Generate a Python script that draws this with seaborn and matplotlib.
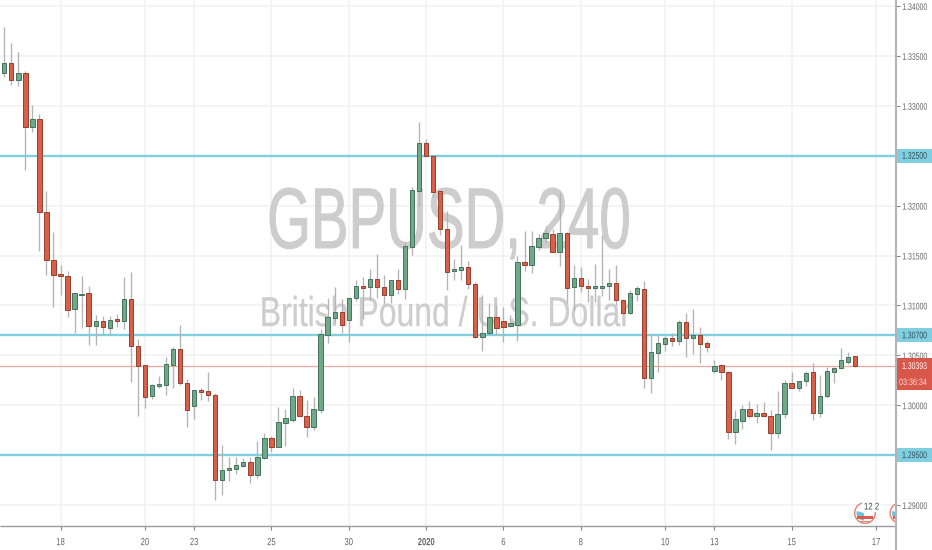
import matplotlib
matplotlib.use("Agg")
import matplotlib.pyplot as plt
import numpy as np
import pandas as pd
import seaborn as sns
from matplotlib.patches import Circle, Rectangle, Wedge
from matplotlib.patheffects import AbstractPathEffect
from matplotlib.transforms import Affine2D, blended_transform_factory

highs = [1.33792,1.33626,1.33536,1.33351,1.33005,1.32915,1.32149,1.31738,1.31405,1.31341,1.31121,1.31297,1.31194,1.30901,1.30894,1.30894,1.30914,1.31281,1.31334,1.30666,1.30406,1.30212,1.30292,1.30483,1.30583,1.30803,1.30262,1.30155,1.30169,1.30329,1.30125,
1.29601,1.29481,1.29484,1.29468,1.29484,1.29641,1.29721,1.29691,1.29979,1.29959,1.30169,1.30152,1.30052,1.30079,1.30759,1.31071,1.31181,1.31064,1.31087,1.31254,1.31284,1.31362,1.31515,1.31301,1.31254,1.31365,1.31638,1.32183,1.32840,1.32667,
1.32507,1.32156,1.31949,1.31465,1.31605,1.31445,1.31237,1.31104,1.31021,1.31004,1.30987,1.30904,1.31495,1.31748,1.31748,1.31712,1.31795,1.31765,1.32123,1.31732,1.31402,1.31382,1.31264,1.31412,1.31702,1.31365,1.31400,1.31064,1.31151,1.31197,
1.31244,1.30703,1.30703,1.30693,1.30726,1.30854,1.30921,1.30967,1.30786,1.30646,1.30453,1.30416,1.30339,1.29949,1.29999,1.30045,1.30012,1.30032,1.29949,1.30142,1.30252,1.30335,1.30242,1.30345,1.30426,1.30299,1.30379,1.30386,1.30573,1.30536,1.30493]
lows = [1.33291,1.33208,1.33201,1.32357,1.32740,1.31548,1.31304,1.30987,1.31107,1.30887,1.30726,1.30770,1.30603,1.30603,1.30703,1.30713,1.30786,1.30760,1.30235,1.29895,1.29969,1.30062,1.30172,1.30105,1.30172,1.30199,1.29784,1.29859,1.30052,1.30042,1.29053,
1.29100,1.29237,1.29310,1.29378,1.29223,1.29273,1.29461,1.29534,1.29578,1.29594,1.29831,1.29885,1.29684,1.29754,1.29925,1.30620,1.30826,1.30720,1.30630,1.31044,1.30861,1.31054,1.31077,1.31014,1.31024,1.31114,1.31061,1.31502,1.31996,1.32500,
1.32083,1.31705,1.31154,1.31254,1.31254,1.31164,1.30673,1.30540,1.30713,1.30703,1.30633,1.30780,1.30640,1.31347,1.31327,1.31555,1.31635,1.31538,1.31398,1.31021,1.30954,1.31134,1.31031,1.31030,1.31097,1.31054,1.31004,1.30914,1.30911,1.31044,
1.30172,1.30125,1.30336,1.30540,1.30593,1.30603,1.30486,1.30510,1.30420,1.30530,1.30319,1.30252,1.29661,1.29614,1.29758,1.29869,1.29824,1.29882,1.29551,1.29668,1.29869,1.30169,1.30145,1.30192,1.29852,1.29879,1.30072,1.30225,1.30366,1.30413,1.30383]
tops = [1.33426,1.33426,1.33325,1.33325,1.32868,1.32868,1.31939,1.31452,1.31311,1.31297,1.31121,1.31117,1.31121,1.30841,1.30841,1.30857,1.30861,1.31067,1.31067,1.30590,1.30400,1.30205,1.30209,1.30410,1.30563,1.30563,1.30222,1.30149,1.30152,1.30142,1.30105,
1.29354,1.29371,1.29398,1.29428,1.29428,1.29481,1.29674,1.29671,1.29828,1.29869,1.30095,1.30095,1.29895,1.29959,1.30710,1.30884,1.30931,1.30931,1.31077,1.31194,1.31191,1.31264,1.31264,1.31187,1.31251,1.31251,1.31595,1.32153,1.32627,1.32627,
1.32497,1.32149,1.31765,1.31365,1.31382,1.31382,1.31214,1.30726,1.30884,1.30887,1.30843,1.30820,1.31435,1.31435,1.31595,1.31672,1.31722,1.31718,1.31728,1.31728,1.31277,1.31277,1.31197,1.31191,1.31197,1.31224,1.31224,1.31057,1.31121,1.31171,
1.31167,1.30536,1.30620,1.30673,1.30673,1.30831,1.30831,1.30703,1.30700,1.30620,1.30396,1.30400,1.30332,1.29859,1.29959,1.29959,1.29922,1.29922,1.29895,1.29912,1.30222,1.30225,1.30242,1.30325,1.30332,1.30095,1.30342,1.30369,1.30456,1.30483,1.30490]
bottoms = [1.33331,1.33258,1.33255,1.32790,1.32787,1.31939,1.31452,1.31304,1.31291,1.30954,1.30961,1.31107,1.30796,1.30796,1.30786,1.30776,1.30841,1.30844,1.30596,1.30396,1.30082,1.30092,1.30195,1.30202,1.30400,1.30219,1.29955,1.29989,1.30135,1.30099,1.29247,
1.29247,1.29347,1.29358,1.29391,1.29300,1.29300,1.29468,1.29578,1.29578,1.29824,1.29852,1.29892,1.29781,1.29778,1.29955,1.30706,1.30877,1.30806,1.30854,1.31071,1.31177,1.31181,1.31181,1.31107,1.31107,1.31164,1.31164,1.31588,1.32146,1.32500,
1.32139,1.31768,1.31337,1.31347,1.31354,1.31211,1.30680,1.30680,1.30726,1.30770,1.30786,1.30796,1.30803,1.31402,1.31402,1.31585,1.31678,1.31538,1.31538,1.31174,1.31181,1.31191,1.31171,1.31174,1.31174,1.31199,1.31054,1.30924,1.30924,1.31117,
1.30275,1.30275,1.30523,1.30616,1.30640,1.30643,1.30676,1.30676,1.30613,1.30583,1.30345,1.30329,1.29734,1.29734,1.29844,1.29889,1.29889,1.29892,1.29724,1.29724,1.29909,1.30175,1.30169,1.30239,1.29919,1.29919,1.30092,1.30329,1.30373,1.30436,1.30396]
colors = list("GRGRGRRRRRGGRGRGRGRRRGGGGRRGRRRG"
              "GGGRGGRGGGRRGGGGRGGRGRRGRGGGRRRR"
              "GGRRGGRRGGRGGGRGRGRRGGGRRGGRGGGR"
              "GRGRRGRRGGRGRRGGRGGRGGGGGR")
y_ticks = [1.29, 1.295, 1.30, 1.305, 1.31, 1.315, 1.32, 1.325, 1.33, 1.335, 1.34]
x_tick_pos = [8, 20, 27, 38, 49, 60, 71, 82, 94, 101, 112, 124]
x_tick_labels = ["18", "20", "23", "25", "30", "2020", "6", "8", "10", "13", "15", "17"]
levels = [1.325, 1.307, 1.295]
last_price = 1.30393
countdown = "03:36:34"
title = "GBPUSD, 240"
subtitle = "British Pound / U.S. Dollar"

UP, DOWN = "#6fa98a", "#d95f49"
UP_E, DOWN_E = "#44735c", "#96402f"
CYAN, RED, TXT = "#7fcfe0", "#d9574a", "#666666"


class Squeeze(AbstractPathEffect):
    """Narrow glyphs horizontally around a pixel x; optional extra stroke."""
    def __init__(self, cx, sx, stroke=0.0):
        super().__init__()
        self.cx, self.sx, self.stroke = cx, sx, stroke

    def draw_path(self, renderer, gc, tpath, affine, rgbFace=None):
        t = affine + Affine2D().translate(-self.cx, 0).scale(self.sx, 1).translate(self.cx, 0)
        g = renderer.new_gc()
        g.copy_properties(gc)
        if self.stroke and rgbFace is not None:
            g.set_linewidth(self.stroke)
            g.set_foreground(rgbFace)
        renderer.draw_path(g, tpath, t, rgbFace)
        g.restore()


sns.set_theme(style="white")
plt.rcParams["font.family"] = ["Liberation Sans", "DejaVu Sans"]

assert len(highs) == len(lows) == len(tops) == len(bottoms) == len(colors)
n = len(highs)
df = pd.DataFrame({"i": np.arange(n), "high": highs, "low": lows, "top": tops,
                   "bottom": bottoms, "dir": colors})

fig = plt.figure(figsize=(9.32, 5.5), dpi=100, facecolor="white")
ax = fig.add_axes([0, 24 / 550, 896 / 932, 526 / 550])
ax.set_facecolor("white")
x0, x1 = -0.61, 126.84
ax.set_xlim(x0, x1)
ax.set_ylim(1.34 - 520 / 9980, 1.34 + 6 / 9980)
sns.despine(ax=ax, top=True, left=True, right=True, bottom=True)

# tick labels: boxes replace the labels at the marked levels
ax.set_yticks(y_ticks)
ax.set_yticklabels(["" if v in levels else f"{v:.5f}" for v in y_ticks], fontsize=6.9, color=TXT)
ax.yaxis.tick_right()
ax.set_xticks(x_tick_pos)
ax.set_xticklabels(x_tick_labels, fontsize=7.4, color=TXT)
ax.tick_params(axis="y", length=3, width=0.8, color="#888888", pad=-2, right=True)
ax.tick_params(axis="x", length=3, width=0.8, color="#888888", pad=5, bottom=True)
sq_y = Squeeze(915, 0.72)
for lab in ax.get_yticklabels():
    lab.set_path_effects([sq_y])
for pos, lab in zip(x_tick_pos, ax.get_xticklabels()):
    lab.set_path_effects([Squeeze(896 * (pos - x0) / (x1 - x0), 0.74)])
ax.get_xticklabels()[5].set_fontweight("bold")
ax.grid(True, color="#f1f1f1", lw=1.1, zorder=0)
ax.set_axisbelow(True)

pix_x = blended_transform_factory(Affine2D(), ax.transData)
ax.text(449, 1.3406 - 226 / 9980, title, transform=pix_x, ha="center", va="center",
        fontsize=62, color="#cdcdcd", zorder=1, path_effects=[Squeeze(449, 0.655, 0.7)])
ax.text(445, 1.3406 - 315 / 9980, subtitle, transform=pix_x, ha="center", va="center",
        fontsize=30, color="#cdcdcd", zorder=1, path_effects=[Squeeze(445, 0.767, 0.2)])

for lv in levels:
    ax.axhline(lv, color=CYAN, lw=1.7, zorder=2)
ax.axhline(last_price, color="#eda79f", lw=0.9, zorder=2)

ax.vlines(df["i"], df["low"], df["high"], color="#b4b4b4", lw=0.95, zorder=3)
for d, fc, ec in (("G", UP, UP_E), ("R", DOWN, DOWN_E)):
    s = df[df["dir"] == d]
    ax.bar(s["i"], (s["top"] - s["bottom"]).clip(lower=0.00006), bottom=s["bottom"], width=0.62,
           color=fc, edgecolor=ec, linewidth=0.7, zorder=4)

side = blended_transform_factory(ax.transAxes, ax.transData)
bw = 36 / 896
sq_box = Squeeze(915, 0.72)
for lv in levels:
    ax.add_patch(Rectangle((1.0, lv - 0.0007), bw, 0.0014, transform=side, color=CYAN,
                           clip_on=False, zorder=5, lw=0))
    ax.text(1 + 1 / 896, lv, f"{lv:.5f}", transform=side, fontsize=6.9, color="#2f4f55",
            va="center", ha="left", zorder=6, path_effects=[sq_box])
ax.add_patch(Rectangle((1.0, last_price - 0.0008), bw, 0.0016, transform=side, color=RED,
                       clip_on=False, zorder=5, lw=0))
ax.text(1 + 1 / 896, last_price, f"{last_price:.5f}", transform=side, fontsize=6.9, color="white",
        va="center", ha="left", zorder=6, path_effects=[sq_box])
ax.add_patch(Rectangle((1.0, last_price - 0.00245), bw, 0.0016, transform=side, color=RED,
                       clip_on=False, zorder=5, lw=0))
ax.text(1 + 0.5 / 896, last_price - 0.00165, countdown, transform=side, fontsize=6.6, color="#f7dcd8",
        va="center", ha="left", zorder=6, path_effects=[Squeeze(908, 0.78)])

ov = fig.add_axes([0, 0, 1, 1], zorder=10)
ov.set_xlim(0, 932)
ov.set_ylim(550, 0)
ov.axis("off")
ov.patch.set_alpha(0)
ov.plot([0, 896], [526, 526], color="#9c9c9c", lw=1.0, solid_capstyle="butt")
ov.plot([896, 896], [0, 550], color="#b4b4b4", lw=1.5, solid_capstyle="butt")
clip = Rectangle((0, 495), 895, 31, transform=ov.transData)
for cx in (865, 900.5):
    parts = [
        Circle((cx, 513), 10.3, fc="white", ec="#e58a7d", lw=1.1),
        Wedge((cx - 1.0, 513), 7.5, 90, 195, fc="#6cc3d8", lw=0),
        Rectangle((cx - 8, 516), 16, 3.2, fc="#dd5b4a", lw=0),
        Rectangle((cx - 5, 520.5), 10, 1.2, fc="#e58a7d", lw=0),
    ]
    for p in parts:
        ov.add_patch(p)
        p.set_clip_path(clip)
ov.text(871.5, 506.5, "12 2", fontsize=7, color="#33474d", ha="center", va="center",
        bbox=dict(boxstyle="square,pad=0.05", fc="white", ec="none"),
        path_effects=[Squeeze(871.5, 0.8)])

fig.savefig("out.png", dpi=100, facecolor="white")
